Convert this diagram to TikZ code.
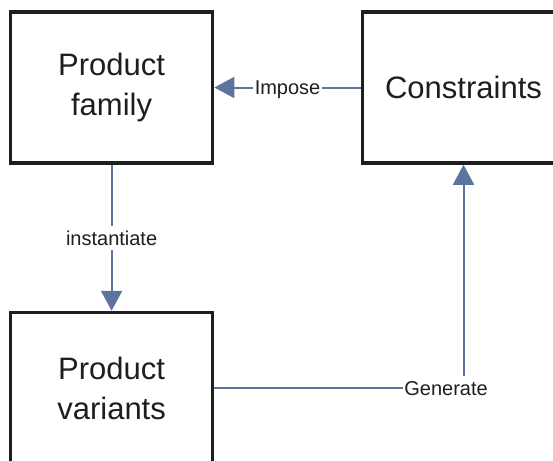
\documentclass[tikz,border=0pt]{standalone}
\usepackage{fontspec}
\setmainfont{Liberation Sans}
\usetikzlibrary{arrows.meta}
\definecolor{boxline}{RGB}{30,30,30}
\definecolor{conn}{RGB}{92,116,158}
\definecolor{txt}{RGB}{30,30,30}
\tikzset{
  box/.style={draw=boxline, line width=3.5pt, minimum width=202pt, minimum height=151pt,
    align=center, text=txt, font=\fontsize{31}{40}\selectfont, inner sep=0pt},
  conn/.style={draw=conn, line width=2pt, -{Triangle[length=20pt,width=21pt]}},
  lbl/.style={fill=white, text=txt, font=\fontsize{20}{24}\selectfont,
    text height=14.5pt, text depth=0pt, inner xsep=1.5pt, inner ysep=5pt}
}
\begin{document}
\begin{tikzpicture}[x=1pt,y=-1pt]
\useasboundingbox (0,0) rectangle (553,460);
\clip (0,0) rectangle (553,460);
\fill[white] (0,0) rectangle (553,460);
\node[box] (family) at (111.6,87.5) {Product\\family};
\node[box] (constraints) at (463.5,87.5) {Constraints};
\node[box] (variants) at (111.6,388) {Product\\variants};
\draw[conn] (constraints.west) -- node[lbl] {Impose} (family.east);
\draw[conn] (family.south) -- node[lbl] {instantiate} (variants.north);
\draw[conn] (variants.east) -| node[lbl, pos=0.465] {Generate} (constraints.south);
\end{tikzpicture}
\end{document}
